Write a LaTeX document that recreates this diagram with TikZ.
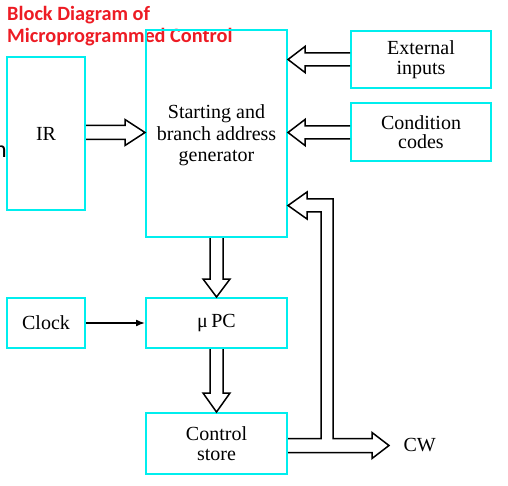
\documentclass[tikz,border=0pt]{standalone}
\usepackage{fontspec}
\setmainfont{Liberation Serif}
\newfontfamily\titlefont{Carlito}
\usetikzlibrary{calc,arrows.meta}
\definecolor{boxcyan}{RGB}{0,238,238}
\definecolor{titlered}{RGB}{237,28,36}
\tikzset{
  blk/.style={draw=boxcyan, line width=2pt, rectangle, inner sep=0pt, align=center,
    font=\fontsize{20}{19.5}\selectfont},
  fat/.style={draw=black, line width=1.5pt, line join=miter},
  thin arrow/.style={draw=black, line width=1.5pt, -{Latex[length=9pt,width=7pt]}},
  ttl/.style={font=\titlefont\bfseries\fontsize{20.3}{22}\selectfont, text=titlered, anchor=base west, inner sep=0pt}
}
\begin{document}
\begin{tikzpicture}[x=1pt,y=-1pt]
\useasboundingbox (0,0) rectangle (508,486);
% title
\node[ttl] (t1) at (7,21) {Block Diagram of};
\node[ttl] (t2) at (7,43) {Microprogrammed Control};
\node[font=\titlefont\fontsize{24}{24}\selectfont, anchor=base east, inner sep=0pt] (frag) at (7,158) {n};
% boxes
\node[blk, minimum width=78pt, minimum height=153pt] (IR) at (46,133.5) {IR};
\node[blk, minimum width=141pt, minimum height=207pt] (SB) at (216.5,133.5) {};
\node[font=\fontsize{20}{21.5}\selectfont, align=center] (SBt) at (SB.center) [yshift=-2pt] {Starting and\\branch address\\generator};
\node[blk, minimum width=140pt, minimum height=57pt] (EXT) at (421,59.5) {External\\inputs};
\node[blk, minimum width=140pt, minimum height=58pt] (COND) at (421,132) {Condition\\codes};
\node[blk, minimum width=78pt, minimum height=50pt] (CLK) at (46,323) {Clock};
\node[blk, minimum width=141pt, minimum height=50pt] (UPC) at (216.5,323) {μ\thinspace PC};
\node[blk, minimum width=141pt, minimum height=61pt] (CS) at (216.5,443.5) {Control\\store};
\node[font=\fontsize{20}{20}\selectfont, anchor=west] (CW) at (400,445.5) {CW};
% IR -> SB
\draw[fat] (IR.east|-0,125.5) -- (125,125.5) -- (125,119.5) -- (SB.west|-0,132.5) -- (125,145.5) -- (125,139.5) -- (IR.east|-0,139.5);
% EXT -> SB
\draw[fat] (EXT.west|-0,53) -- (305,53) -- (305,46.5) -- (SB.east|-0,59.5) -- (305,72.5) -- (305,66) -- (EXT.west|-0,66);
% COND -> SB
\draw[fat] (COND.west|-0,126) -- (305,126) -- (305,119.5) -- (SB.east|-0,132.5) -- (305,145.5) -- (305,139) -- (COND.west|-0,139);
% SB -> UPC
\draw[fat] (210,0|-SB.south) -- (210,279) -- (203,279) -- (216.5,0|-UPC.north) -- (230,279) -- (223,279) -- (223,0|-SB.south);
% UPC -> CS
\draw[fat] (210,0|-UPC.south) -- (210,393) -- (203,393) -- (216.5,0|-CS.north) -- (230,393) -- (223,393) -- (223,0|-UPC.south);
% Clock -> UPC
\draw[thin arrow] (CLK.east) -- (UPC.west);
% feedback / CW
\draw[fat] (CS.east|-0,452.5) -- (372,452.5) -- (372,458.5) -- (389,445.5) -- (372,432.5) -- (372,438.5)
  -- (333,438.5) -- (333,199) -- (307,199) -- (307,192) -- (SB.east|-0,205.5) -- (307,219) -- (307,212)
  -- (321,212) -- (321,438.5) -- (CS.east|-0,438.5);
\end{tikzpicture}
\end{document}
